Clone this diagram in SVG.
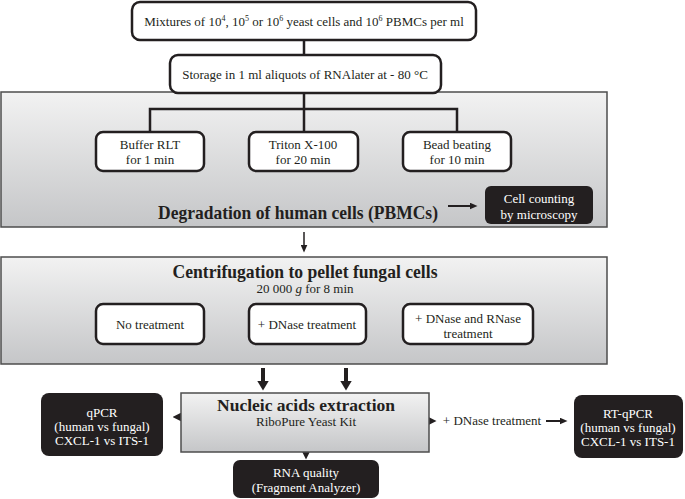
<svg xmlns="http://www.w3.org/2000/svg" width="685" height="499" viewBox="0 0 685 499">
<defs>
<style>
text{font-family:"Liberation Serif","Times New Roman",serif;fill:#231f20;text-anchor:middle}
.t{font-size:13px}
.w{font-size:13px;fill:#ffffff}
.b{font-weight:bold}
.box{fill:#ffffff;stroke:#231f20;stroke-width:2.5}
.dark{fill:#231f20;stroke:none}
.panel{fill:url(#g);stroke:#4d4d4d;stroke-width:1.5}
.ln{fill:none;stroke:#231f20;stroke-width:2.5}
.ar{fill:none;stroke:#231f20}
</style>
<linearGradient id="g" x1="0" y1="0" x2="0" y2="1">
<stop offset="0" stop-color="#f2f2f2"/>
<stop offset="1" stop-color="#c5c6c8"/>
</linearGradient>
<marker id="big" viewBox="0 0 10 12" refX="0.5" refY="6" markerWidth="10" markerHeight="12" markerUnits="userSpaceOnUse" orient="auto"><path d="M0,0 L10,6 L0,12 z" fill="#231f20"/></marker>
<marker id="med" viewBox="0 0 9 9" refX="0.5" refY="4.5" markerWidth="9" markerHeight="9" markerUnits="userSpaceOnUse" orient="auto"><path d="M0,0 L9,4.5 L0,9 z" fill="#231f20"/></marker>
<marker id="sm" viewBox="0 0 8 7" refX="0.5" refY="3.5" markerWidth="8" markerHeight="7" markerUnits="userSpaceOnUse" orient="auto"><path d="M0,0 L8,3.5 L0,7 z" fill="#231f20"/></marker>
</defs>

<g id="panel-degradation">
<rect class="panel" x="1" y="92" width="606" height="135"/>
<text class="b" x="298" y="219" font-size="19" textLength="280" lengthAdjust="spacingAndGlyphs">Degradation of human cells (PBMCs)</text>
</g>
<g id="panel-centrifugation">
<rect class="panel" x="1" y="257" width="606" height="107"/>
<text class="b" x="305" y="278" font-size="19" textLength="265" lengthAdjust="spacingAndGlyphs">Centrifugation to pellet fungal cells</text>
<text class="t" x="305" y="293">20 000 <tspan font-style="italic">g</tspan> for 8 min</text>
</g>

<g id="connectors">
<path class="ln" d="M304,40 V55 M304,93 V109 M150,132 V109 H457 V132 M304,109 V132"/>
<line class="ar" x1="448" y1="206" x2="470" y2="206" stroke-width="2" marker-end="url(#sm)"/>
<line class="ar" x1="304" y1="232" x2="304" y2="245" stroke-width="1.5" marker-end="url(#sm)"/>
<line class="ar" x1="263" y1="368" x2="263" y2="381" stroke-width="4" marker-end="url(#big)"/>
<line class="ar" x1="346" y1="368" x2="346" y2="381" stroke-width="4" marker-end="url(#big)"/>
<line class="ar" x1="237" y1="417" x2="181" y2="417" stroke-width="3" marker-end="url(#med)"/>
<line class="ar" x1="372" y1="421" x2="428" y2="421" stroke-width="3" marker-end="url(#med)"/>
<line class="ar" x1="546" y1="421" x2="560" y2="421" stroke-width="2" marker-end="url(#sm)"/>
<line class="ar" x1="306" y1="433" x2="306" y2="451" stroke-width="2.5" marker-end="url(#med)"/>
</g>

<g id="node-mixtures">
<rect class="box" x="132" y="2" width="344" height="38" rx="8"/>
<text class="t" x="304" y="26">Mixtures of 10<tspan dy="-5" font-size="8">4</tspan><tspan dy="5">, 10</tspan><tspan dy="-5" font-size="8">5</tspan><tspan dy="5"> or 10</tspan><tspan dy="-5" font-size="8">6</tspan><tspan dy="5"> yeast cells and 10</tspan><tspan dy="-5" font-size="8">6</tspan><tspan dy="5"> PBMCs per ml</tspan></text>
</g>
<g id="node-storage">
<rect class="box" x="170" y="55" width="271" height="38" rx="8"/>
<text class="t" x="305" y="79">Storage in 1 ml aliquots of RNAlater at - 80 °C</text>
</g>
<g id="node-buffer">
<rect class="box" x="96" y="132" width="108" height="39" rx="7"/>
<text class="t" x="150" y="149">Buffer RLT</text>
<text class="t" x="150" y="164">for 1 min</text>
</g>
<g id="node-triton">
<rect class="box" x="249" y="132" width="109" height="39" rx="7"/>
<text class="t" x="303" y="149">Triton X-100</text>
<text class="t" x="303" y="164">for 20 min</text>
</g>
<g id="node-bead">
<rect class="box" x="403" y="132" width="108" height="39" rx="7"/>
<text class="t" x="457" y="149">Bead beating</text>
<text class="t" x="457" y="164">for 10 min</text>
</g>
<g id="node-cell-counting">
<rect class="dark" x="485" y="186" width="108" height="38" rx="6"/>
<text class="w" x="539" y="203">Cell counting</text>
<text class="w" x="539" y="219">by microscopy</text>
</g>
<g id="node-no-treatment">
<rect class="box" x="96" y="304" width="108" height="40" rx="7"/>
<text class="t" x="150" y="329">No treatment</text>
</g>
<g id="node-dnase">
<rect class="box" x="249" y="304" width="117" height="40" rx="7"/>
<text class="t" x="307" y="329">+ DNase treatment</text>
</g>
<g id="node-dnase-rnase">
<rect class="box" x="403" y="304" width="130" height="40" rx="7"/>
<text class="t" x="468" y="323">+ DNase and RNase</text>
<text class="t" x="468" y="338">treatment</text>
</g>
<g id="node-extraction">
<rect class="panel" x="181" y="393" width="248" height="59"/>
<text class="b" x="306" y="411" font-size="17" textLength="178" lengthAdjust="spacingAndGlyphs">Nucleic acids extraction</text>
<text class="t" x="306" y="426">RiboPure Yeast Kit</text>
</g>
<g id="node-qpcr">
<rect class="dark" x="41" y="393" width="122" height="63" rx="8"/>
<text class="w" x="102" y="417">qPCR</text>
<text class="w" x="102" y="431">(human vs fungal)</text>
<text class="w" x="102" y="445">CXCL-1 vs ITS-1</text>
</g>
<g id="label-dnase">
<text class="t" x="492" y="425">+ DNase treatment</text>
</g>
<g id="node-rtqpcr">
<rect class="dark" x="574" y="395" width="109" height="63" rx="8"/>
<text class="w" x="628" y="418">RT-qPCR</text>
<text class="w" x="628" y="432">(human vs fungal)</text>
<text class="w" x="628" y="446">CXCL-1 vs ITS-1</text>
</g>
<g id="node-rna-quality">
<rect class="dark" x="233" y="460" width="146" height="38" rx="7"/>
<text class="w" x="306" y="477">RNA quality</text>
<text class="w" x="306" y="492">(Fragment Analyzer)</text>
</g>
</svg>
